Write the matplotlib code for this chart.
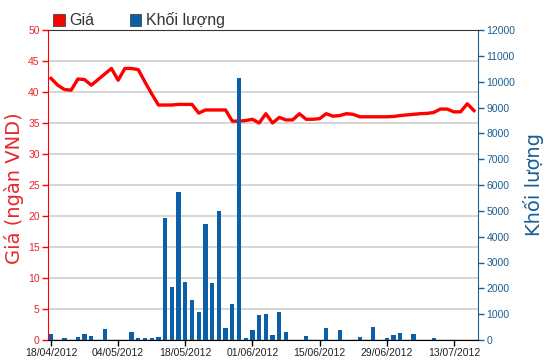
import pandas as pd
import matplotlib
matplotlib.use("Agg")
from matplotlib import pyplot as plt
from matplotlib.patches import Patch

# trading sessions 18/04/2012 - 18/07/2012 (30/04, 01/05 holidays)
dates = pd.bdate_range("2012-04-18", "2012-07-18")
dates = dates[~dates.isin(pd.to_datetime(["2012-04-30", "2012-05-01"]))]
date_labels = [d.strftime("%d/%m/%Y") for d in dates]

price = [42.2, 41.1, 40.4, 40.3, 42.1, 42.0, 41.1, 42.0, 42.9, 43.8,
         41.9, 43.8, 43.8, 43.6, 41.6, 39.7, 37.9, 37.9, 37.9, 38.0,
         38.0, 38.0, 36.6, 37.1, 37.1, 37.1, 37.1, 35.3, 35.3, 35.4,
         35.6, 35.0, 36.5, 35.0, 35.9, 35.5, 35.5, 36.5, 35.6, 35.6,
         35.7, 36.5, 36.1, 36.2, 36.5, 36.4, 36.0, 36.0, 36.0, 36.0,
         36.0, 36.05, 36.2, 36.3, 36.4, 36.5, 36.55, 36.7, 37.25, 37.25,
         36.8, 36.8, 38.1, 37.0]

volume = [220, 0, 80, 0, 120, 215, 165, 0, 410, 0,
          0, 0, 320, 80, 80, 80, 120, 4710, 2065, 5715,
          2260, 1550, 1100, 4480, 2195, 5005, 450, 1395, 10140, 70,
          400, 980, 1010, 206, 1085, 310, 0, 0, 155, 0,
          0, 452, 0, 400, 0, 0, 116, 0, 503, 0,
          77, 206, 270, 0, 215, 0, 0, 70, 0, 0,
          0, 0, 0, 0]

red = '#ff0000'
red_txt = '#e8262d'
blue = '#0b5ea8'
blue_txt = '#1b5f92'

x = list(range(len(price)))

fig = plt.figure(figsize=(5.5, 3.64), dpi=100)
ax = fig.add_axes([48/550, 24/364, 430/550, 310/364])
ax2 = ax.twinx()

ax.plot(x, price, color=red, linewidth=2.4, solid_joinstyle='round', zorder=3)
ax2.bar(x, volume, width=0.65, color=blue, zorder=3)

ax.set_xlim(-0.45, 63.6)
ax.set_ylim(0, 50)
ax2.set_ylim(0, 12000)
ax.set_yticks(range(0, 51, 5))
ax2.set_yticks(range(0, 12001, 1000))
ax.set_xticks(x[::10])
ax.set_xticklabels(date_labels[::10])

ax.grid(axis='y', color='#cccccc', linewidth=1.1)
ax.set_axisbelow(True)

tickfont = dict(family='Liberation Sans', size=7.5)
for lab in ax.get_xticklabels():
    lab.set_fontproperties(tickfont)
for lab in ax.get_yticklabels():
    lab.set_fontproperties(tickfont)
for lab in ax2.get_yticklabels():
    lab.set_fontproperties(tickfont)

ax.tick_params(axis='x', colors='black', length=4, width=1, pad=2, labelcolor='#222222')
ax.tick_params(axis='y', colors=red, length=4, width=1, pad=2, labelcolor=red_txt)
ax2.tick_params(axis='y', colors=blue_txt, length=4, width=1, pad=2, labelcolor=blue_txt)

ax2.spines['left'].set_color(red)
ax2.spines['right'].set_color(blue_txt)
ax2.spines['top'].set_color('#333333')
ax2.spines['bottom'].set_color('black')
for s in ax.spines.values():
    s.set_visible(False)

ax.set_ylabel("Giá (ngàn VND)", color=red_txt, fontsize=14, family='DejaVu Sans')
ax.yaxis.set_label_coords(-0.055, 0.49)
ax2.set_ylabel("Khối lượng", color=blue_txt, fontsize=14, family='DejaVu Sans')
ax2.yaxis.set_label_coords(1.105, 0.5)

handles = [Patch(facecolor=red, edgecolor='#444444', linewidth=0.6),
           Patch(facecolor=blue, edgecolor='#444444', linewidth=0.6)]
fig.legend(handles, ['Giá', 'Khối lượng'], loc='lower left',
           bbox_to_anchor=(51/550, 334/364), ncol=2, frameon=False,
           handlelength=0.75, handleheight=0.75, handletextpad=0.3,
           columnspacing=2.2, borderpad=0.1, borderaxespad=0,
           prop=dict(family='Liberation Sans', size=11.5), labelcolor='#333333')

plt.savefig('out.png', dpi=100)
